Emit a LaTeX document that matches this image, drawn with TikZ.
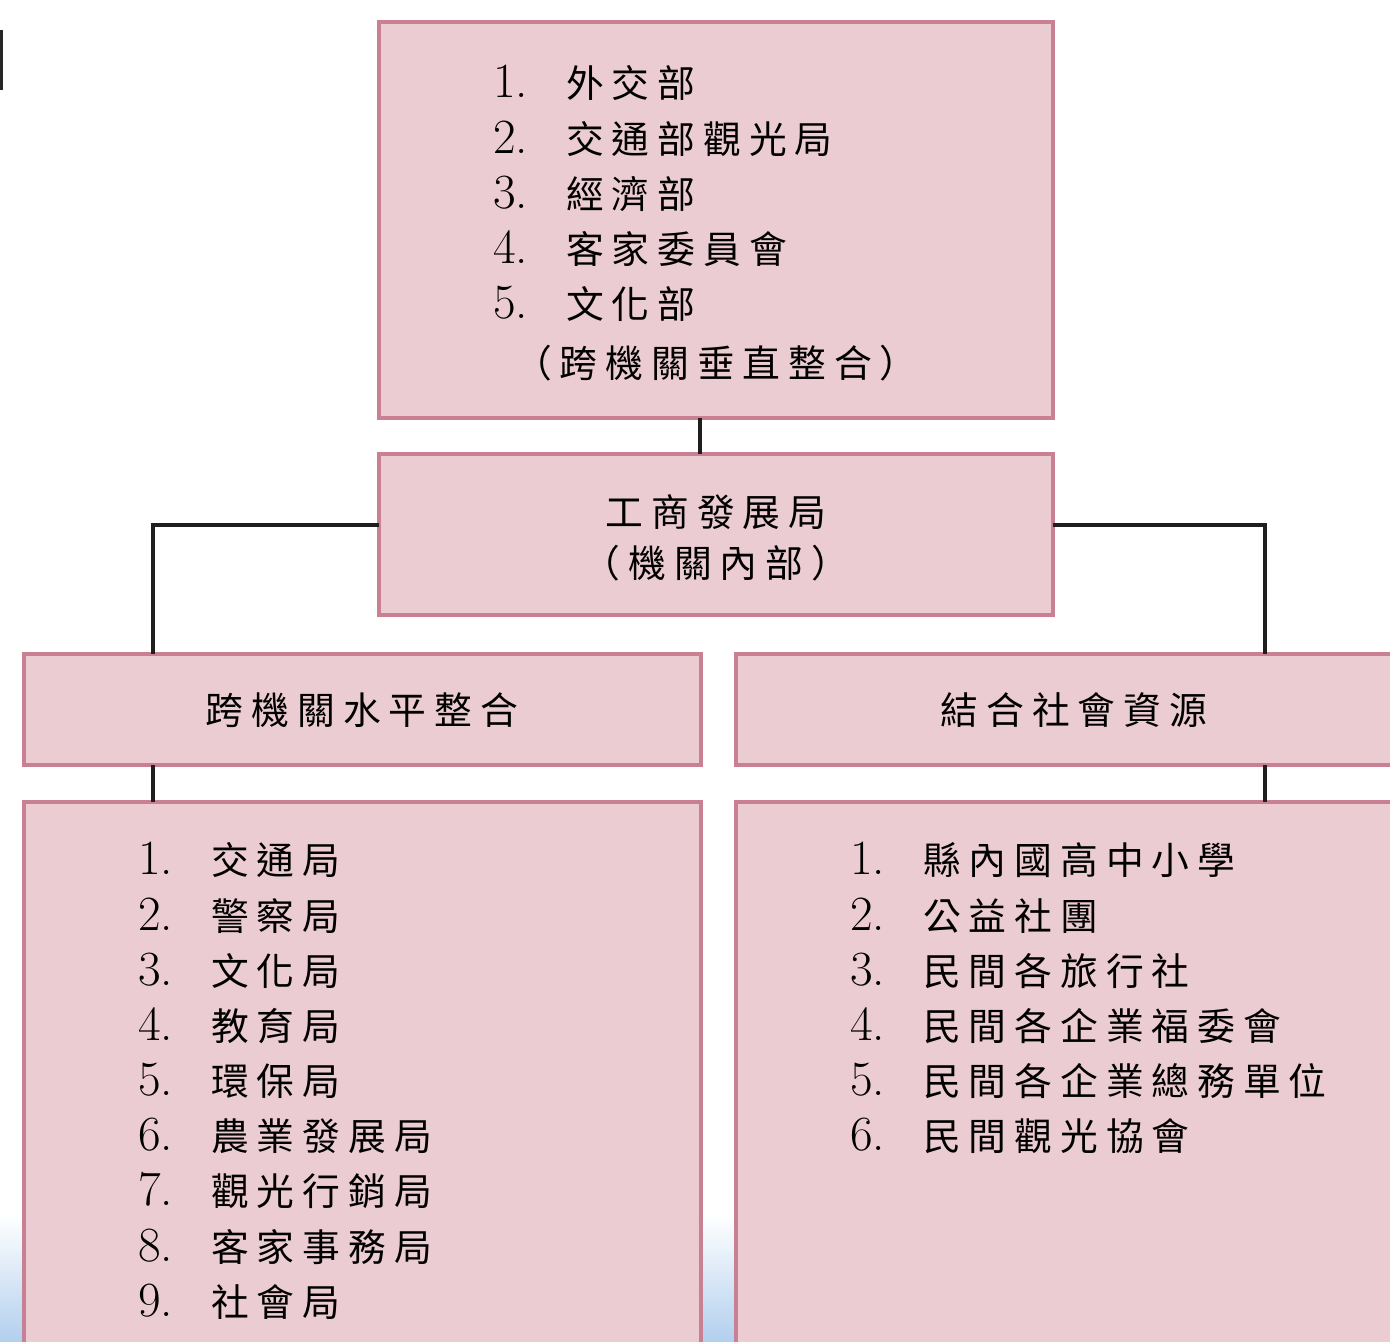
\documentclass[tikz,border=0pt]{standalone}
\usepackage{fontspec}
\newfontfamily\cjk[LetterSpace=21]{Noto Sans CJK TC}
\definecolor{boxfill}{RGB}{236,204,211}
\definecolor{boxline}{RGB}{200,128,146}
\definecolor{skyblue}{RGB}{178,207,238}
\newcommand{\numfont}{\rmfamily\fontsize{28}{31.4}\selectfont}
\newcommand{\entry}[2]{\makebox[41.5pt][l]{\numfont #1.}#2}
\tikzset{
  unitbox/.style={draw=boxline, fill=boxfill, line width=2.3pt, inner sep=0pt, outer sep=0pt, anchor=north west},
  link/.style={draw=black!88, line width=2.3pt},
  listtext/.style={align=left, anchor=north west, inner sep=0pt,
    font=\cjk\fontsize{21.5}{31.4}\selectfont},
  headtext/.style={align=center, inner sep=0pt,
    font=\cjk\fontsize{21.5}{29}\selectfont}
}
\begin{document}
\begin{tikzpicture}[x=0.02cm, y=-0.02cm]
  \useasboundingbox (0,0) rectangle (1390,1342);
  \clip (0,0) rectangle (1390,1342);

  % background, light blue at the bottom
  \fill[white] (0,0) rectangle (1390,1342);
  \shade[top color=white, bottom color=skyblue] (0,1215) rectangle (1390,1342);

  % cut-off mark at the left edge
  \draw[black!85, line width=1.8pt] (1,30) -- (1,90);

  % bends of the connectors
  \coordinate (joint) at (700,436);
  \coordinate (lbend) at (153,525);
  \coordinate (rbend) at (1265,525);

  % Boxes
  \node[unitbox, minimum width=13.48cm, minimum height=7.92cm] (topbox) at (379,22) {};
  \node[unitbox, minimum width=13.48cm, minimum height=3.22cm] (midbox) at (379,454) {};
  \node[unitbox, minimum width=13.54cm, minimum height=2.22cm] (lhead) at (24,654) {};
  \node[unitbox, minimum width=14cm, minimum height=2.22cm] (rhead) at (736,654) {};
  \node[unitbox, minimum width=13.54cm, minimum height=12cm] (llist) at (24,802) {};
  \node[unitbox, minimum width=14cm, minimum height=12cm] (rlist) at (736,802) {};

  % Connectors
  \draw[link] (joint |- topbox.south) -- (joint |- midbox.north);
  \draw[link] (midbox.west |- lbend) -- (lbend) -- (lbend |- lhead.north);
  \draw[link] (midbox.east |- rbend) -- (rbend) -- (rbend |- rhead.north);
  \draw[link] (lbend |- lhead.south) -- (lbend |- llist.north);
  \draw[link] (rbend |- rhead.south) -- (rbend |- rlist.north);

  % Vertical integration list
  \node[listtext] (toplisttext) at (493,65) {%
    \entry{1}{外交部}\\
    \entry{2}{交通部觀光局}\\
    \entry{3}{經濟部}\\
    \entry{4}{客家委員會}\\
    \entry{5}{文化部}};
  \node[headtext] (topnote) at (716,363) {（跨機關垂直整合）};

  % Bureau itself
  \node[headtext] (midtext) at (716,538) {工商發展局\\（機關內部）};

  % Headings of the two branches
  \node[headtext] (lheadtext) at (362,710) {跨機關水平整合};
  \node[headtext] (rheadtext) at (1074,710) {結合社會資源};

  % Horizontal integration list
  \node[listtext] (llisttext) at (138,842) {%
    \entry{1}{交通局}\\
    \entry{2}{警察局}\\
    \entry{3}{文化局}\\
    \entry{4}{教育局}\\
    \entry{5}{環保局}\\
    \entry{6}{農業發展局}\\
    \entry{7}{觀光行銷局}\\
    \entry{8}{客家事務局}\\
    \entry{9}{社會局}};

  % Social resources list
  \node[listtext] (rlisttext) at (850,842) {%
    \entry{1}{縣內國高中小學}\\
    \entry{2}{公益社團}\\
    \entry{3}{民間各旅行社}\\
    \entry{4}{民間各企業福委會}\\
    \entry{5}{民間各企業總務單位}\\
    \entry{6}{民間觀光協會}};
\end{tikzpicture}
\end{document}
